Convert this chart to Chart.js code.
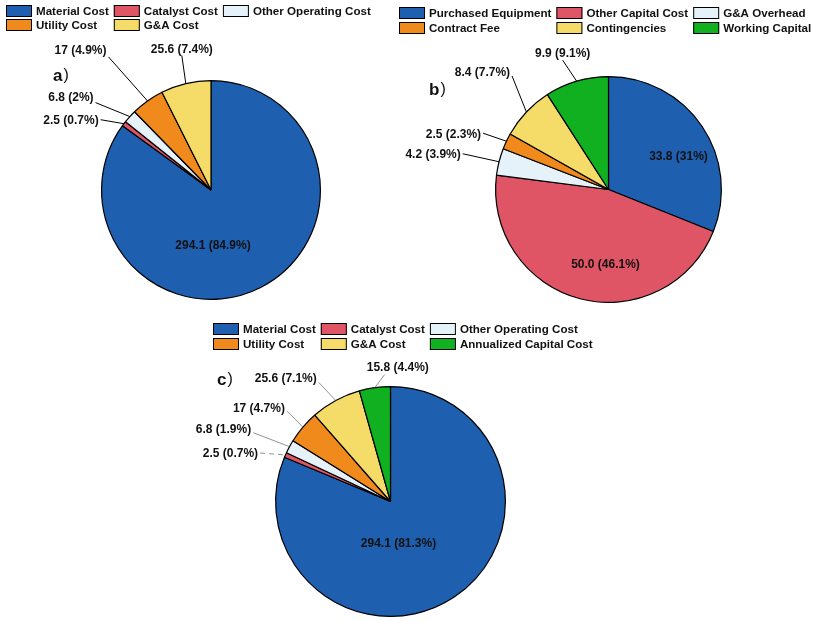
<!DOCTYPE html>
<html>
<head>
<meta charset="utf-8">
<script src="https://cdn.jsdelivr.net/npm/chart.js@4.4.1/dist/chart.umd.min.js"></script>
<style>
    html, body { margin: 0; padding: 0; background: #fff; }
    #wrap { position: relative; width: 817px; height: 621px; overflow: hidden; }
    canvas { position: absolute; }
</style>
</head>
<body>
<div id="wrap">
    <canvas id="chartA" width="390" height="315" style="left:0;top:0"></canvas>
    <canvas id="chartB" width="427" height="315" style="left:390px;top:0"></canvas>
    <canvas id="chartC" width="500" height="306" style="left:150px;top:315px"></canvas>
</div>
<script>
// --- dados ---
const operatingLabels = ['Material Cost', 'Catalyst Cost', 'Other Operating Cost', 'Utility Cost', 'G&A Cost'];
const operatingValues = [294.1, 2.5, 6.8, 17, 25.6];
const operatingPct = [84.9, 0.7, 2, 4.9, 7.4];

const capitalLabels = ['Purchased Equipment', 'Other Capital Cost', 'G&A Overhead', 'Contract Fee', 'Contingencies', 'Working Capital'];
const capitalValues = [33.8, 50.0, 4.2, 2.5, 8.4, 9.9];
const capitalPct = [31, 46.1, 3.9, 2.3, 7.7, 9.1];

const totalLabels = ['Material Cost', 'Catalyst Cost', 'Other Operating Cost', 'Utility Cost', 'G&A Cost', 'Annualized Capital Cost'];
const totalValues = [294.1, 2.5, 6.8, 17, 25.6, 15.8];
const totalPct = [81.3, 0.7, 1.9, 4.7, 7.1, 4.4];

const palette = ['#1F5FB0', '#E05566', '#E6F2FA', '#F08A1C', '#F5DC68', '#10B020'];

const FONT = '"Liberation Sans", Arial, sans-serif';

// legenda em grade, rótulos com linha de chamada e letra do painel
const decorPlugin = {
    id: 'decor',
    afterDraw(chart, args, opts) {
        const ctx = chart.ctx;
        const ds = chart.data.datasets[0];
        const labels = chart.data.labels;
        ctx.save();

        // legenda (3 colunas)
        ctx.font = 'bold 11.6px ' + FONT;
        const nCols = 3;
        const colW = [];
        labels.forEach((t, i) => {
            const c = i % nCols;
            colW[c] = Math.max(colW[c] || 0, ctx.measureText(t).width);
        });
        const colX = [opts.legend.x];
        for (let c = 1; c < nCols; c++) colX[c] = colX[c - 1] + 30 + colW[c - 1] + 5;
        labels.forEach((t, i) => {
            const c = i % nCols, r = Math.floor(i / nCols);
            const bx = colX[c], cy = opts.legend.rows[r];
            ctx.fillStyle = ds.backgroundColor[i];
            ctx.fillRect(bx, cy - 6, 26, 12);
            ctx.strokeStyle = '#000';
            ctx.lineWidth = 1;
            ctx.strokeRect(bx + 0.5, cy - 5.5, 25, 11);
            ctx.fillStyle = '#111';
            ctx.textAlign = 'left';
            ctx.textBaseline = 'middle';
            ctx.fillText(t, bx + 30, cy + 1);
        });

        // rótulos das fatias
        const fmt = v => opts.decimals != null ? v.toFixed(opts.decimals) : String(v);
        const meta = chart.getDatasetMeta(0);
        meta.data.forEach((arc, i) => {
            const p = arc.getProps(['x', 'y', 'startAngle', 'endAngle', 'outerRadius'], true);
            const pl = opts.place[i];
            const text = fmt(ds.data[i]) + ' (' + opts.pct[i] + '%)';
            ctx.font = 'bold 12px ' + FONT;
            ctx.textAlign = 'center';
            ctx.textBaseline = 'middle';
            const w = ctx.measureText(text).width;
            let tx, ty;
            if (pl.inside) {
                tx = p.x + pl.dx;
                ty = p.y + pl.dy;
            } else {
                const mid = (p.startAngle + p.endAngle) / 2;
                const ex = p.x + Math.cos(mid) * p.outerRadius;
                const ey = p.y + Math.sin(mid) * p.outerRadius;
                tx = ex + pl.dx;
                ty = ey + pl.dy;
                ctx.strokeStyle = opts.line.color;
                ctx.lineWidth = opts.line.width;
                ctx.setLineDash(pl.dash || []);
                ctx.beginPath();
                ctx.moveTo(tx + pl.ax * (w / 2 + 2), ty + pl.ay);
                ctx.lineTo(ex, ey);
                ctx.stroke();
                ctx.setLineDash([]);
            }
            ctx.fillStyle = '#111';
            ctx.fillText(text, tx, ty + 1);
        });

        // letra do painel
        ctx.textAlign = 'left';
        ctx.textBaseline = 'middle';
        ctx.font = 'bold 17px ' + FONT;
        ctx.fillStyle = '#111';
        ctx.fillText(opts.letter.text, opts.letter.x, opts.letter.y);
        const lw = ctx.measureText(opts.letter.text).width;
        ctx.font = '16px ' + FONT;
        ctx.fillText(')', opts.letter.x + lw + 1, opts.letter.y);
        ctx.restore();
    }
};

const makePie = (id, labels, values, padding, decor) => {
    const ctx = document.getElementById(id);
    if (!ctx) return null;
    return new Chart(ctx, {
        type: 'pie',
        data: {
            labels: labels,
            datasets: [{
                data: values,
                backgroundColor: palette.slice(0, values.length),
                borderColor: '#000',
                borderWidth: 1.2,
                hoverOffset: 0
            }]
        },
        options: {
            responsive: false,
            animation: false,
            events: [],
            layout: { padding: padding },
            plugins: {
                legend: { display: false },
                tooltip: { enabled: false },
                decor: decor
            }
        },
        plugins: [decorPlugin]
    });
};

makePie('chartA', operatingLabels, operatingValues,
    { left: 101, top: 80, right: 69, bottom: 15 },
    {
        legend: { x: 6, rows: [11, 25] },
        letter: { text: 'a', x: 53, y: 76 },
        pct: operatingPct,
        decimals: null,
        line: { color: '#000', width: 1 },
        place: [
            { inside: true, dx: 2, dy: 55 },
            { dx: -53, dy: -4, ax: 1, ay: 0 },
            { dx: -59, dy: -20, ax: 1, ay: 6 },
            { dx: -67, dy: -51, ax: 1, ay: 7 },
            { dx: -4, dy: -35, ax: 0, ay: 7 }
        ]
    });

makePie('chartB', capitalLabels, capitalValues,
    { left: 105, top: 76, right: 95, bottom: 12 },
    {
        legend: { x: 9, rows: [13, 28] },
        letter: { text: 'b', x: 39, y: 90 },
        pct: capitalPct,
        decimals: 1,
        line: { color: '#000', width: 1 },
        place: [
            { inside: true, dx: 70, dy: -34 },
            { inside: true, dx: -3, dy: 74 },
            { dx: -66, dy: -8, ax: 1, ay: 0 },
            { dx: -53, dy: -8, ax: 1, ay: 0 },
            { dx: -44, dy: -40, ax: 1, ay: 4 },
            { dx: -14, dy: -28, ax: 0, ay: 7 }
        ]
    });

makePie('chartC', totalLabels, totalValues,
    { left: 125, top: 71, right: 144, bottom: 4 },
    {
        legend: { x: 63, rows: [14, 29] },
        letter: { text: 'c', x: 67, y: 65 },
        pct: totalPct,
        decimals: null,
        line: { color: '#777', width: 0.8 },
        place: [
            { inside: true, dx: 8, dy: 41 },
            { dx: -55, dy: -2, ax: 1, ay: 0, dash: [5, 4] },
            { dx: -66, dy: -18, ax: 1, ay: 4 },
            { dx: -44, dy: -19, ax: 1, ay: 3 },
            { dx: -50, dy: -23, ax: 1, ay: 5 },
            { dx: 23, dy: -21, ax: -0.4, ay: 8 }
        ]
    });
</script>
</body>
</html>
